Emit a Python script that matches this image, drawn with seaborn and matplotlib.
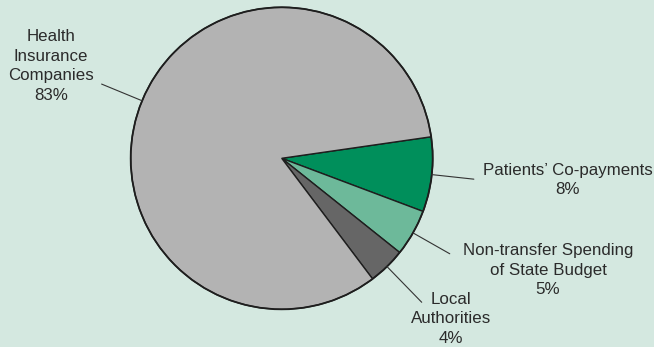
import numpy as np
import matplotlib
matplotlib.use("Agg")
import matplotlib.pyplot as plt
import seaborn as sns

labels = ["Patients\u2019 Co-payments", "Non-transfer Spending\nof State Budget",
          "Local\nAuthorities", "Health\nInsurance\nCompanies"]
shares = [8, 5, 4, 83]
colors = ["#008f5b", "#6db99a", "#666666", "#b3b3b3"]

# label text centres in pixels (x, y from top) and leader lengths (radius units)
label_px = [(568, 180), (548, 270), (451, 319), (51, 66)]
leader_r = [1.28, 1.28, 1.33, 1.29]

W, H = 654, 347
cx, cy, R = 281.7, 158.3, 151.0


def to_data(px, py):
    return (px - cx) / R, (cy - py) / R


def main():
    sns.set_theme(style="white")
    plt.rcParams["font.family"] = ["Liberation Sans", "DejaVu Sans"]
    bg = "#d4e8e0"

    fig = plt.figure(figsize=(W / 100, H / 100), dpi=100, facecolor=bg)
    ax = fig.add_axes([0, 0, 1, 1])
    ax.set_facecolor(bg)

    wedges, _ = ax.pie(shares, colors=colors, startangle=8.2, counterclock=False,
                       radius=1.0, wedgeprops=dict(edgecolor="#1e1e1e", linewidth=1.0))
    # redraw outer circle slightly heavier
    ax.add_patch(plt.Circle((0, 0), 1.0, fill=False, edgecolor="#1e1e1e", linewidth=1.3))

    for w, lab, v, (px, py), lr in zip(wedges, labels, shares, label_px, leader_r):
        ang = np.deg2rad((w.theta1 + w.theta2) / 2)
        x0, y0 = np.cos(ang), np.sin(ang)
        ax.plot([x0, lr * x0], [y0, lr * y0], color="#333333", lw=0.8)
        tx, ty = to_data(px, py)
        ax.text(tx, ty, f"{lab}\n{v}%", ha="center", va="center", multialignment="center",
                fontsize=12.2, color="#2b2b2b", linespacing=1.38)

    ax.set_xlim(-cx / R, (W - cx) / R)
    ax.set_ylim(-(H - cy) / R, cy / R)
    ax.set_aspect("equal")
    ax.axis("off")
    fig.savefig("out.png", dpi=100, facecolor=bg)


if __name__ == "__main__":
    main()
